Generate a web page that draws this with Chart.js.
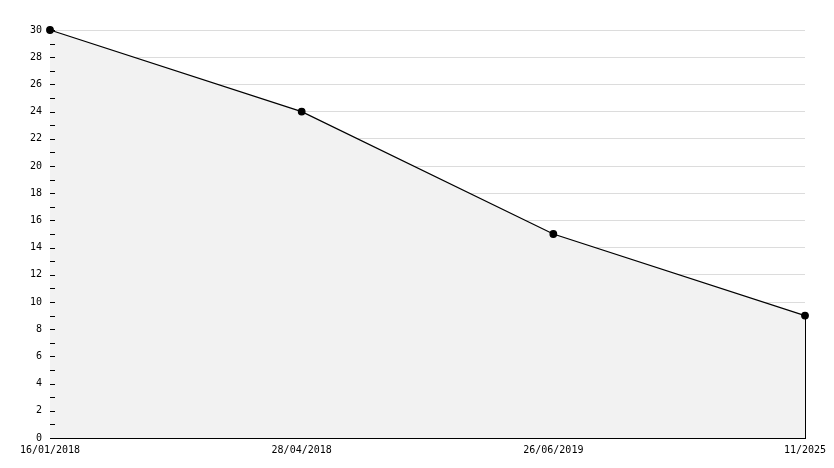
<!DOCTYPE html>
<html>
<head>
<meta charset="utf-8">
<script src="https://cdn.jsdelivr.net/npm/chart.js@4/dist/chart.umd.min.js"></script>
<style>
  html, body { margin: 0; padding: 0; background: #fff; }
  #wrap { width: 834px; height: 468px; }
</style>
</head>
<body>
<div id="wrap"><canvas id="myChart"></canvas></div>
<script>
// chart data
const dateLabels = ['16/01/2018', '28/04/2018', '26/06/2019', '11/2025'];
const seriesValues = [30, 24, 15, 9];
const yMin = 0;
const yMax = 30;
const yLabelStep = 2;

// small ticks on the inner side of the y axis + closing line of the area
const axisMarks = {
  id: 'axisMarks',
  afterDatasetsDraw(chart) {
    const ctx = chart.ctx;
    const y = chart.scales.y;
    const x = chart.scales.x;
    ctx.save();
    ctx.strokeStyle = '#000';
    ctx.lineWidth = 1;
    ctx.beginPath();
    for (let v = yMin; v <= yMax; v++) {
      const py = Math.round(y.getPixelForValue(v)) + 0.5;
      ctx.moveTo(y.right, py);
      ctx.lineTo(y.right + 5, py);
    }
    const last = seriesValues.length - 1;
    const px = Math.round(x.getPixelForValue(last)) + 0.5;
    ctx.moveTo(px, y.getPixelForValue(seriesValues[last]));
    ctx.lineTo(px, y.getPixelForValue(yMin));
    ctx.stroke();
    ctx.restore();
  }
};

const ctx = document.getElementById('myChart').getContext('2d');
const chart = new Chart(ctx, {
  type: 'line',
  data: {
    labels: dateLabels,
    datasets: [{
      data: seriesValues,
      borderColor: '#000',
      borderWidth: 1.2,
      backgroundColor: '#f2f2f2',
      fill: 'origin',
      tension: 0,
      clip: false,
      pointRadius: 3.3,
      pointBackgroundColor: '#000',
      pointBorderColor: '#000'
    }]
  },
  options: {
    responsive: true,
    maintainAspectRatio: false,
    animation: false,
    layout: { padding: { top: 30, right: 29, left: 0, bottom: 0 } },
    plugins: { legend: { display: false }, tooltip: { enabled: false } },
    scales: {
      x: {
        offset: false,
        grid: { display: false, drawTicks: false },
        border: { display: true, color: '#000' },
        ticks: {
          color: '#000',
          font: { family: 'DejaVu Sans Mono', size: 10 },
          padding: 6,
          maxRotation: 0,
          autoSkip: false
        },
        afterFit(scale) { scale.height = 30; }
      },
      y: {
        min: yMin,
        max: yMax,
        grid: {
          drawTicks: false,
          color: c => (c.tick && c.tick.value % yLabelStep === 0) ? '#dcdcdc' : 'rgba(0,0,0,0)'
        },
        border: { display: true, color: '#000' },
        ticks: {
          stepSize: 1,
          autoSkip: false,
          color: '#000',
          font: { family: 'DejaVu Sans Mono', size: 10 },
          padding: 8,
          callback: v => (v % yLabelStep === 0 ? v : '')
        },
        afterFit(scale) { scale.width = 50; }
      }
    }
  },
  plugins: [axisMarks]
});
</script>
</body>
</html>
